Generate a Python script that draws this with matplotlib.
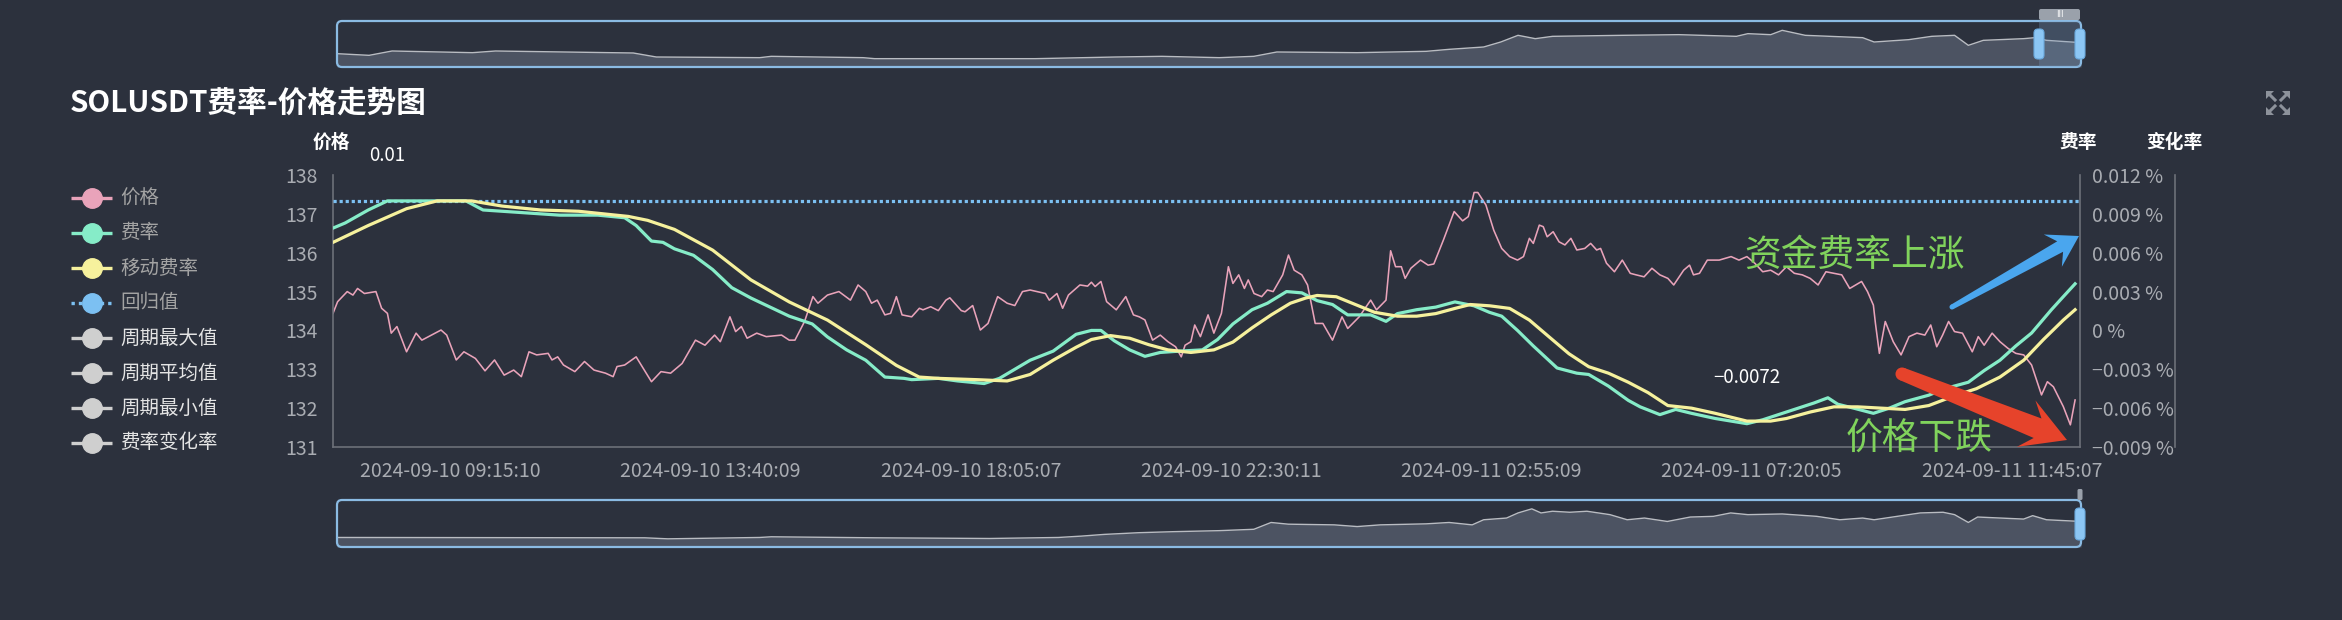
import numpy as np
import matplotlib
matplotlib.use('Agg')
import matplotlib.pyplot as plt
from matplotlib.patches import FancyBboxPatch, Polygon, Rectangle, Circle
from matplotlib.ticker import FixedLocator, FuncFormatter
from datetime import datetime

plt.rcParams['font.family'] = ['Noto Sans CJK SC', 'DejaVu Sans']
plt.rcParams['axes.unicode_minus'] = False

# ---------------- data ----------------
start_time = '2024-09-10 07:15:30'          # left edge of the visible window
x_end = 1779                                  # minutes shown
tick_labels = ['2024-09-10 09:15:10', '2024-09-10 13:40:09', '2024-09-10 18:05:07',
               '2024-09-10 22:30:11', '2024-09-11 02:55:09', '2024-09-11 07:20:05',
               '2024-09-11 11:45:07']

# price (left axis), (minutes from start, price)
price_pts = [
    (0, 134.44), (4.7, 134.74), (14.5, 135.00), (20.3, 134.91), (25.0, 135.08), (32.0, 134.95),
    (43.7, 135.00), (49.5, 134.57), (55.4, 134.44), (59.3, 133.93), (65.1, 134.10), (74.9, 133.45),
    (84.6, 133.93), (90.5, 133.75), (110, 134.01), (115.8, 133.88), (125.5, 133.24), (133.3, 133.45),
    (145, 133.28), (154.8, 132.96), (164.5, 133.24), (174.3, 132.85), (184, 132.98), (191.8, 132.81),
    (199.6, 133.45), (207.4, 133.37), (219.1, 133.41), (223, 133.24), (228.8, 133.32), (234.7, 133.11),
    (246.3, 132.94), (256.1, 133.20), (265.8, 132.98), (277.5, 132.90), (285.3, 132.81), (289.2, 133.07),
    (297, 133.11), (308.7, 133.32), (324.3, 132.68), (334, 132.94), (343.8, 132.90), (355.5, 133.15),
    (369.1, 133.75), (378.8, 133.62), (388.6, 133.88), (394.4, 133.71), (404.2, 134.35), (410, 133.97),
    (415.9, 134.10), (421.7, 133.80), (431.5, 133.93), (441.2, 133.84), (456.8, 133.88), (464.6, 133.75),
    (470.4, 133.75), (480.2, 134.23), (488.7, 134.87), (493.8, 134.70), (503.5, 134.91), (515.2, 135.00),
    (526.9, 134.78), (534.7, 135.17), (542.5, 135.00), (548.4, 134.70), (554.2, 134.78), (562, 134.40),
    (567.8, 134.44), (573.7, 134.87), (579.5, 134.40), (589.3, 134.35), (597.1, 134.57),
    (600.8, 134.53), (608.6, 134.61), (616.4, 134.51), (624.2, 134.78), (628.1, 134.84), (639.8, 134.51),
    (643.6, 134.48), (651.4, 134.64), (659.2, 134.01), (667, 134.18), (676.8, 134.87), (686.5, 134.70),
    (694.3, 134.64), (702.1, 135.00), (709.9, 135.04), (725.5, 134.95), (729.4, 134.78), (737.2, 134.95),
    (743, 134.57), (748.9, 134.91), (760.6, 135.17), (768.4, 135.14), (772.3, 135.24), (776.1, 135.13),
    (782, 135.26), (787.8, 134.74), (797.6, 134.53), (807.3, 134.87), (815.1, 134.40), (821, 134.35),
    (826.8, 134.27), (834.6, 133.75), (842.4, 133.88), (850.2, 133.71), (858, 133.58), (863.8, 133.32),
    (867.7, 133.62), (873.6, 133.71), (877.5, 134.14), (883.3, 133.84), (891.1, 134.40), (897, 133.93),
    (904.7, 134.44), (911.8, 135.64), (916.4, 135.21), (922.3, 135.43), (928.1, 135.08), (932, 135.30),
    (937.9, 134.95), (945.7, 134.87), (951.5, 135.04), (957.4, 135.00), (967.1, 135.43), (973, 135.94),
    (978.8, 135.55), (986.6, 135.43), (992.4, 135.17), (1000.2, 134.18), (1008, 134.18), (1017.8, 133.75),
    (1027.5, 134.35), (1033.3, 134.05), (1045, 134.35), (1056.7, 134.78), (1062.6, 134.53), (1072.3, 134.78),
    (1077, 136.05), (1082, 135.64), (1087.9, 135.64), (1091.8, 135.34), (1097.6, 135.60), (1107.4, 135.81),
    (1115.2, 135.68), (1121, 135.71), (1130.8, 136.33), (1141.7, 137.06), (1150.3, 136.82), (1156.1, 136.93),
    (1162, 137.55), (1165.8, 137.55),
    (1174, 137.23), (1182, 136.58), (1190.1, 136.11), (1198.2, 135.90), (1206.2, 135.81), (1212.3, 135.90),
    (1218.3, 136.37), (1222.3, 136.24), (1228.4, 136.71), (1232.4, 136.67), (1236.4, 136.41), (1242.5, 136.54),
    (1248.5, 136.28), (1254.5, 136.20), (1260.6, 136.37), (1266.6, 136.07), (1274.7, 136.11), (1280.7, 136.24),
    (1286.8, 136.07), (1290.8, 136.11), (1296.8, 135.73), (1304.9, 135.51), (1312.9, 135.81), (1321, 135.47),
    (1327, 135.43), (1335.1, 135.38), (1343.1, 135.60), (1351.2, 135.43), (1359.3, 135.34), (1365.3, 135.17),
    (1375.4, 135.55), (1381.4, 135.68), (1385.4, 135.43), (1391.5, 135.47), (1399.5, 135.81), (1411.6, 135.81),
    (1423.7, 135.90), (1431.7, 135.81), (1439.8, 135.90), (1447.8, 135.73), (1455.9, 135.51), (1464, 135.55),
    (1472, 135.43), (1480.1, 135.64), (1488.1, 135.47), (1496.2, 135.43), (1504.2, 135.34), (1512.3, 135.17),
    (1520.3, 135.51), (1528.4, 135.47), (1536.4, 135.43), (1544.5, 135.08), (1556.6, 135.26), (1562.6, 135.00),
    (1568.6, 134.65), (1570.7, 134.18), (1574.7, 133.41), (1580.7, 134.23), (1588.8, 133.71), (1596.8, 133.37),
    (1604.9, 133.84), (1612.9, 133.93), (1621, 133.88), (1627, 134.14), (1633.1, 133.58), (1639.1, 133.88),
    (1645.2, 134.23), (1651.2, 133.97), (1659.3, 133.93), (1669.3, 133.45), (1675.4, 133.84), (1681.4, 133.62),
    (1689.5, 133.93), (1697.5, 133.71), (1705.6, 133.54), (1713.6, 133.41), (1721.7, 133.37), (1729.7, 133.11),
    (1739.8, 132.34), (1745.8, 132.68), (1751.9, 132.55), (1762, 132.04), (1769.2, 131.57), (1774, 132.21),
]

# funding rate 费率 (%), right axis
rate_t = [0, 12.5, 35.9, 55.4, 135.3, 152.8, 191.8, 230.8, 269.7, 297, 308.7, 324.3, 336, 347.7, 367.1,
          386.6, 406.1, 425.6, 445.1, 464.6, 488, 503.5, 523, 542.5, 562, 581.5, 589.3, 616.4, 635.9,
          663.1, 678.7, 694.3, 709.9, 733.3, 756.7, 772.3, 782, 795.6, 811.2, 826.8, 842.4, 861.9, 885.3,
          900.8, 916.4, 935.9, 951.5, 971, 986.6, 1002.2, 1017.8, 1033.3, 1056.7, 1072.3, 1084, 1103.5,
          1123, 1142.5, 1162, 1177.5, 1190.1, 1206.2, 1222.3, 1246.5, 1266.6, 1278.7, 1298.8, 1319,
          1331.1, 1351.2, 1367.3, 1383.4, 1407.6, 1439.8, 1455.9, 1480, 1508.2, 1522.3, 1532.4, 1548.5,
          1568.6, 1584.8, 1600.9, 1625, 1641.1, 1665.3, 1681.4, 1697.5, 1713.6, 1729.7, 1749.9, 1761.9, 1774]
rate = [0.0079, 0.0083, 0.0093, 0.0100, 0.0100, 0.0093, 0.0091, 0.0089, 0.0089, 0.0087, 0.0081, 0.0069,
        0.0068, 0.0063, 0.0058, 0.0047, 0.0033, 0.0025, 0.0018, 0.0011, 0.0005, -0.0005, -0.0015, -0.0023,
        -0.0036, -0.0037, -0.0038, -0.0037, -0.0039, -0.0041, -0.0037, -0.0030, -0.0023, -0.0016, -0.0003,
        0.0000, 0.0000, -0.0008, -0.0015, -0.0020, -0.0017, -0.0016, -0.0015, -0.0007, 0.0005, 0.0016,
        0.0021, 0.0030, 0.0029, 0.0023, 0.0020, 0.0012, 0.0012, 0.0007, 0.0013, 0.0016, 0.0018, 0.0022,
        0.0019, 0.0014, 0.0011, 0.0000, -0.0012, -0.0029, -0.0033, -0.0034, -0.0043, -0.0054, -0.0059,
        -0.0065, -0.0061, -0.0064, -0.0068, -0.0072, -0.0069, -0.0063, -0.0056, -0.0052, -0.0057, -0.0060,
        -0.0064, -0.0060, -0.0055, -0.0050, -0.0045, -0.0040, -0.0031, -0.0023, -0.0012, -0.0002, 0.0016,
        0.0026, 0.0036]

# moving funding rate 移动费率 (%)
ma_t = [0, 35.9, 74.9, 106, 141.1, 172.3, 211.3, 250.2, 300.9, 320.4, 347.7, 386.6, 425.6, 464.6, 503.5,
        542.5, 573.7, 596.9, 616.4, 655.3, 686.5, 709.9, 733.3, 756.7, 772.3, 791.7, 811.2, 830.7, 850.2,
        873.6, 897, 916.4, 935.9, 955.4, 974.9, 990.5, 1002.2, 1021.7, 1041.1, 1060.6, 1084, 1103.5, 1123,
        1142.5, 1158.1, 1178, 1198.2, 1218.3, 1238.4, 1258.6, 1278.7, 1298.8, 1319, 1339.1, 1359.3, 1383.4,
        1407.6, 1439.8, 1463.9, 1480, 1504.2, 1528.4, 1552.5, 1576.7, 1600.9, 1625, 1649.2, 1673.4, 1697.5,
        1721.7, 1741.8, 1762, 1774]
ma = [0.0068, 0.0081, 0.0094, 0.0100, 0.0100, 0.0096, 0.0093, 0.0092, 0.0088, 0.0085, 0.0078, 0.0062,
      0.0039, 0.0022, 0.0008, -0.0011, -0.0027, -0.0036, -0.0037, -0.0038, -0.0039, -0.0034, -0.0023,
      -0.0013, -0.0007, -0.0004, -0.0006, -0.0011, -0.0015, -0.0017, -0.0015, -0.0009, 0.0002, 0.0012,
      0.0021, 0.0025, 0.0027, 0.0026, 0.0020, 0.0014, 0.0011, 0.0011, 0.0013, 0.0017, 0.0020, 0.0019,
      0.0017, 0.0008, -0.0005, -0.0018, -0.0028, -0.0033, -0.0040, -0.0048, -0.0058, -0.0060, -0.0064,
      -0.0070, -0.0070, -0.0068, -0.0063, -0.0059, -0.0059, -0.0060, -0.0061, -0.0058, -0.0051, -0.0045,
      -0.0036, -0.0023, -0.0007, 0.0008, 0.0016]

regression_value = 0.01     # 回归值
price_ticks = [131, 132, 133, 134, 135, 136, 137, 138]
rate_ticks = [-0.009, -0.006, -0.003, 0.0, 0.003, 0.006, 0.009, 0.012]

# overview (data-zoom) series, x in % of full history
top_x = [0, 1.84, 3.16, 7.77, 9.09, 13.04, 16.99, 18.31, 24.24, 24.9, 30.17, 30.83, 40.05, 44.66, 47.3,
         50.59, 52.57, 53.89, 58.5, 62.45, 63.77, 65.75, 66.73, 67.72, 68.71, 69.7, 73.65, 76.94, 80.24,
         80.9, 82.21, 82.87, 84.19, 87.48, 88.14, 90.12, 91.44, 92.75, 93.54, 94.4, 96.71, 97.36, 98.02, 100]
top_v = [40, 35, 48, 43, 48, 45, 42, 30, 28, 32, 28, 25, 25, 30, 32, 28, 32, 45, 43, 47, 53, 60, 75, 95,
         85, 92, 95, 97, 92, 100, 97, 110, 95, 88, 75, 82, 92, 95, 65, 80, 85, 88, 80, 73]
bot_x = [0, 17.65, 18.97, 24.24, 24.9, 30.83, 37.42, 41.37, 42.69, 44.0, 45.98, 47.96, 50.59, 52.57, 53.56,
         54.55, 57.18, 58.5, 59.82, 62.45, 63.77, 65.09, 65.75, 67.06, 67.72, 68.51, 69.04, 69.7, 70.69,
         71.67, 72.99, 73.98, 74.97, 76.28, 77.6, 78.92, 79.91, 80.9, 82.87, 84.85, 86.17, 87.48, 88.14,
         89.46, 90.78, 92.09, 92.75, 93.54, 94.07, 95.39, 96.71, 97.23, 98.02, 100]
bot_v = [28, 27, 24, 28, 30, 27, 25, 28, 32, 37, 42, 45, 48, 52, 72, 67, 65, 60, 65, 68, 72, 65, 80, 85,
         100, 112, 100, 105, 102, 105, 95, 80, 85, 75, 88, 90, 100, 95, 97, 90, 80, 85, 80, 90, 100, 102,
         95, 72, 88, 85, 82, 92, 80, 75]

legend_labels = ['价格', '费率', '移动费率', '回归值', '周期最大值', '周期平均值', '周期最小值', '费率变化率']

# ---------------- style ----------------
W, H = 2342, 620
BG = '#2c313d'
AXC = '#6c7079'
TICKC = '#a9acb2'
C_PRICE = '#e9a3ba'
C_RATE = '#86ecc8'
C_MA = '#f6f19d'
C_REG = '#7cc0f2'
C_GREY = '#cfcfcf'
legend_colors = [C_PRICE, C_RATE, C_MA, C_REG, C_GREY, C_GREY, C_GREY, C_GREY]
legend_text_colors = ['#a3a3a3'] * 4 + ['#e4e4e4'] * 4


def rect(x0, y0, x1, y1):
    return [x0 / W, 1 - y1 / H, (x1 - x0) / W, (y1 - y0) / H]


fig = plt.figure(figsize=(W / 100, H / 100), dpi=100, facecolor=BG)

# ---------------- main chart ----------------
ax = fig.add_axes(rect(333, 175, 2080, 447))
ax.set_facecolor(BG)
t0 = datetime.strptime(start_time, '%Y-%m-%d %H:%M:%S')
tick_pos = [(datetime.strptime(s, '%Y-%m-%d %H:%M:%S') - t0).total_seconds() / 60 for s in tick_labels]

pt, pv = zip(*price_pts)
ax.plot(pt, pv, color=C_PRICE, lw=1.15, zorder=2)
ax.set_xlim(0, x_end)
ax.set_ylim(price_ticks[0], price_ticks[-1])
ax.set_yticks(price_ticks)
ax.set_xticks(tick_pos)
ax.set_xticklabels(tick_labels)
ax.tick_params(axis='y', length=0, pad=11, labelsize=14, labelcolor=TICKC)
ax.tick_params(axis='x', length=0, pad=10, labelsize=14, labelcolor=TICKC)
for s in ['top', 'right']:
    ax.spines[s].set_visible(False)
for s in ['left', 'bottom']:
    ax.spines[s].set_color(AXC)
    ax.spines[s].set_linewidth(1.2)

ax2 = ax.twinx()
ax2.set_ylim(rate_ticks[0], rate_ticks[-1])
ax2.axhline(regression_value, color=C_REG, lw=2.3, ls=(0, (1.0, 0.9)), zorder=1)
ax2.plot(rate_t, rate, color=C_RATE, lw=2.3, zorder=3)
ax2.plot(ma_t, ma, color=C_MA, lw=2.3, zorder=3)
ax2.yaxis.set_major_locator(FixedLocator(rate_ticks))


def rate_fmt(v, pos):
    if abs(v) < 1e-12:
        return '0 %'
    return f'{v:.3f}'.replace('-', '\u2212') + ' %'


ax2.yaxis.set_major_formatter(FuncFormatter(rate_fmt))
ax2.tick_params(axis='y', length=0, pad=8.5, labelsize=14, labelcolor=TICKC)
for s in ['top', 'left', 'bottom']:
    ax2.spines[s].set_visible(False)
ax2.spines['right'].set_color(AXC)
ax2.spines['right'].set_linewidth(1.2)

# markPoint labels (max / min of 费率)
ra = np.array(rate)
for idx in (int(np.argmax(ra)), int(np.argmin(ra))):
    val = round(float(ra[idx]), 4)
    ax2.annotate(f'{val:g}'.replace('-', '\u2212'), xy=(rate_t[idx], ra[idx]), xytext=(0, 33),
                 textcoords='offset points', ha='center', va='center', color='white', fontsize=13.5)

# third axis: 变化率
ax3 = ax.twinx()
ax3.spines['right'].set_position(('axes', (2175 - 333) / 1747))
for s in ['top', 'left', 'bottom']:
    ax3.spines[s].set_visible(False)
ax3.spines['right'].set_color(AXC)
ax3.spines['right'].set_linewidth(1.2)
ax3.set_yticks([])

# ---------------- data-zoom overviews ----------------
for (y0, y1, xs, vs) in [(21, 67, top_x, top_v), (500, 547, bot_x, bot_v)]:
    sa = fig.add_axes(rect(337, y0, 2081, y1))
    sa.set_facecolor('none')
    sa.fill_between(xs, vs, 0, color='#4c5362', lw=0)
    sa.plot(xs, vs, color='#b9bcc2', lw=1.0)
    sa.set_xlim(0, 100)
    sa.set_ylim(0, 138)
    sa.axis('off')

# ---------------- overlay (pixel coordinates) ----------------
ov = fig.add_axes([0, 0, 1, 1], zorder=10)
ov.set_xlim(0, W)
ov.set_ylim(H, 0)
ov.axis('off')
ov.patch.set_alpha(0)

# slider chrome
for (y0, y1) in [(21, 67), (500, 547)]:
    ov.add_patch(FancyBboxPatch((337, y0), 1744, y1 - y0, boxstyle='round,pad=0,rounding_size=5',
                                ec='#8bbbe3', fc='none', lw=1.6))
ov.add_patch(Rectangle((2039, 21), 41, 46, fc='#7a9cc2', alpha=0.28, lw=0))
for hx in (2039, 2080):
    ov.add_patch(FancyBboxPatch((hx - 5, 29), 10, 30, boxstyle='round,pad=0,rounding_size=4',
                                fc='#8cc6f4', ec='#6aa8dc', lw=0.8))
ov.add_patch(FancyBboxPatch((2039, 9), 41, 11, boxstyle='round,pad=0,rounding_size=2',
                            fc='#9aa1ab', ec='none'))
ov.text(2059.5, 14.5, 'III', color='white', fontsize=6, ha='center', va='center', family='DejaVu Sans')
ov.add_patch(FancyBboxPatch((2075, 508), 10, 32, boxstyle='round,pad=0,rounding_size=4',
                            fc='#8cc6f4', ec='#6aa8dc', lw=0.8))
ov.add_patch(FancyBboxPatch((2077.5, 489), 5, 11, boxstyle='round,pad=0,rounding_size=1.5',
                            fc='#9aa1ab', ec='none'))

# title
ov.text(70, 103, 'SOLUSDT费率-价格走势图', color='white', fontsize=21.3, fontweight='bold',
        ha='left', va='center')

# expand icon
icol = '#8d929b'
for (cx, cy, sx, sy) in [(2266, 91, 1, 1), (2290, 91, -1, 1), (2266, 115, 1, -1), (2290, 115, -1, -1)]:
    ov.add_patch(Polygon([(cx, cy), (cx + 8 * sx, cy), (cx, cy + 8 * sy)], closed=True, fc=icol, ec='none'))
    ov.plot([cx + 2 * sx, cx + 9 * sx], [cy + 2 * sy, cy + 9 * sy], color=icol, lw=2.2)

# axis names
for (x, s) in [(331, '价格'), (2078, '费率'), (2174, '变化率')]:
    ov.text(x, 142, s, color='white', fontsize=13.5, fontweight='bold', ha='center', va='center')

# legend
for i, (lab, c, tc) in enumerate(zip(legend_labels, legend_colors, legend_text_colors)):
    y = 198 + 35 * i
    ls = (0, (1, 1.2)) if lab == '回归值' else '-'
    ov.plot([71, 112], [y, y], color=c, lw=2.4, ls=ls, solid_capstyle='butt')
    ov.plot([92], [y], marker='o', ms=14, color=c, mec=c)
    ov.text(120, y, lab, color=tc, fontsize=14, ha='left', va='center')


# annotation arrows
def tapered_arrow(tail, tip, w0, w1, head_w, head_len, color, round_tail=False):
    tail = np.array(tail, float)
    tip = np.array(tip, float)
    d = (tip - tail) / np.linalg.norm(tip - tail)
    n = np.array([-d[1], d[0]])
    junction = tip - d * head_len * 0.72
    wing = tip - d * head_len
    pts = [tail + n * w0 / 2, junction + n * w1 / 2, wing + n * head_w / 2, tip,
           wing - n * head_w / 2, junction - n * w1 / 2, tail - n * w0 / 2]
    ov.add_patch(Polygon(pts, closed=True, fc=color, ec='none'))
    if round_tail:
        ov.add_patch(Circle(tail, w0 / 2, fc=color, ec='none'))


tapered_arrow((1952, 307), (2079, 236), 5, 12, 37, 30, '#4aa6ee', round_tail=True)
tapered_arrow((1902, 374), (2067, 440), 13, 21, 50, 44, '#e6432b', round_tail=True)

ov.text(1855, 255, '资金费率上涨', color='#80d35c', fontsize=26.5, ha='center', va='center')
ov.text(1919, 439, '价格下跌', color='#80d35c', fontsize=26.5, ha='center', va='center')

fig.savefig('out.png', dpi=100, facecolor=BG)
